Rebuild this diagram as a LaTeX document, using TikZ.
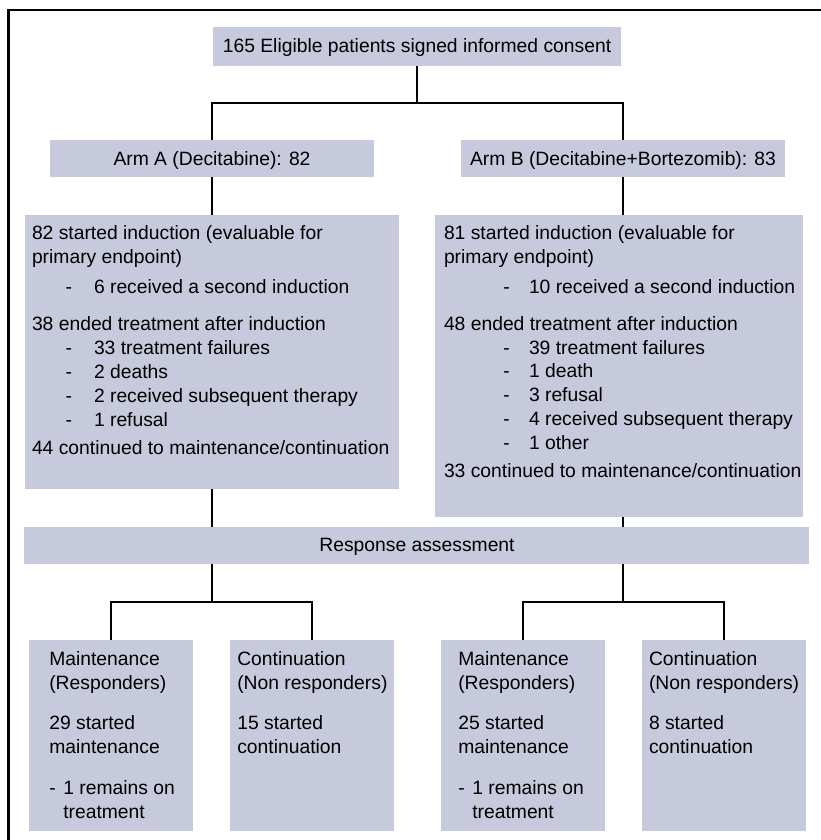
\documentclass[tikz,border=0pt]{standalone}
\usepackage{fontspec}
\setmainfont{Liberation Sans}
\definecolor{boxc}{RGB}{199,201,221}
\tikzset{
  box/.style={fill=boxc, draw=none, inner sep=0pt, outer sep=0pt},
  conn/.style={draw=black, line width=2.8pt},
  frameline/.style={draw=black, line width=2.8pt},
  txt/.style={inner sep=0pt, outer sep=0pt, font=\fontsize{19.3}{24}\selectfont, anchor=base west},
  ctxt/.style={txt, anchor=base},
}
\newcommand\txtline[4]{\node[txt] (#1) at (#2,#3) {#4};}
\begin{document}
\begin{tikzpicture}[x=1pt,y=-1pt]
\useasboundingbox (0,0) rectangle (820,840);
% frame (cropped: only top and left edges visible)
\draw[frameline] (8.7,845) -- (8.7,10) -- (825,10);

% boxes
\node[box, minimum width=408pt, minimum height=39pt] (top) at (417,46.5) {};
\node[box, minimum width=324pt, minimum height=37pt] (armA) at (212,158.5) {};
\node[box, minimum width=324pt, minimum height=37pt] (armB) at (623,158.5) {};
\node[box, minimum width=374pt, minimum height=274pt] (bigA) at (212,352) {};
\node[box, minimum width=368pt, minimum height=302pt] (bigB) at (619,366) {};
\node[box, minimum width=785pt, minimum height=37pt] (resp) at (416.5,545.5) {};
\node[box, minimum width=164pt, minimum height=191pt] (mA) at (111,735.5) {};
\node[box, minimum width=164pt, minimum height=191pt] (cA) at (312,735.5) {};
\node[box, minimum width=164pt, minimum height=191pt] (mB) at (523,735.5) {};
\node[box, minimum width=164pt, minimum height=191pt] (cB) at (724,735.5) {};

% connectors
\draw[conn] (top.south) -- (top.south |- 0,103) coordinate (jTop);
\draw[conn] (armA.north) |- (jTop) -| (armA.north -| armB.north);
\draw[conn] (armA.south) -- (bigA.north);
\draw[conn] (armB.south) -- (armB.south |- bigB.north);
\draw[conn] (bigA.south) -- (bigA.south |- resp.north);
\draw[conn] (armB.south |- bigB.south) -- (armB.south |- resp.north);
\draw[conn] (bigA.south |- resp.south) -- (bigA.south |- 0,602) coordinate (jA);
\draw[conn] (mA.north) |- (jA) -| (cA.north);
\draw[conn] (armB.south |- resp.south) -- (armB.south |- 0,602) coordinate (jB);
\draw[conn] (mB.north) |- (jB) -| (cB.north);

% centered texts
\node[ctxt] (tTop) at (417,52.3) {165 Eligible patients signed informed consent};
\node[ctxt] (tArmA) at (212,165.7) {Arm A (Decitabine): 82};
\node[ctxt] (tArmB) at (623,165.7) {Arm B (Decitabine+Bortezomib): 83};
\node[ctxt] (tResp) at (417,551.7) {Response assessment};

% Arm A details
\txtline{a1}{32}{239}{82 started induction (evaluable for}
\txtline{a2}{32}{263.3}{primary endpoint)}
\txtline{a3d}{65.7}{293}{-}
\txtline{a3}{94}{293}{6 received a second induction}
\txtline{a4}{32}{330}{38 ended treatment after induction}
\txtline{a5d}{65.7}{354}{-}
\txtline{a5}{94}{354}{33 treatment failures}
\txtline{a6d}{65.7}{378.3}{-}
\txtline{a6}{94}{378.3}{2 deaths}
\txtline{a7d}{65.7}{402.3}{-}
\txtline{a7}{94}{402.3}{2 received subsequent therapy}
\txtline{a8d}{65.7}{426}{-}
\txtline{a8}{94}{426}{1 refusal}
\txtline{a9}{32}{454.7}{44 continued to maintenance/continuation}

% Arm B details
\txtline{b1}{444}{239}{81 started induction (evaluable for}
\txtline{b2}{444}{263.3}{primary endpoint)}
\txtline{b3d}{503.3}{293}{-}
\txtline{b3}{529}{293}{10 received a second induction}
\txtline{b4}{444}{330}{48 ended treatment after induction}
\txtline{b5d}{503.3}{354}{-}
\txtline{b5}{529}{354}{39 treatment failures}
\txtline{b6d}{503.3}{377.7}{-}
\txtline{b6}{529}{377.7}{1 death}
\txtline{b7d}{503.3}{401.7}{-}
\txtline{b7}{529}{401.7}{3 refusal}
\txtline{b8d}{503.3}{425.7}{-}
\txtline{b8}{529}{425.7}{4 received subsequent therapy}
\txtline{b9d}{503.3}{449.3}{-}
\txtline{b9}{529}{449.3}{1 other}
\txtline{b10}{444}{477.7}{33 continued to maintenance/continuation}

% Maintenance A
\txtline{ma1}{49.3}{665}{Maintenance}
\txtline{ma2}{49.3}{689.3}{(Responders)}
\txtline{ma3}{49.3}{729.3}{29 started}
\txtline{ma4}{49.3}{753.3}{maintenance}
\txtline{ma5d}{49.3}{794}{-}
\txtline{ma5}{63.3}{794}{1 remains on}
\txtline{ma6}{63.3}{818.3}{treatment}
% Continuation A
\txtline{ca1}{237.3}{665}{Continuation}
\txtline{ca2}{237.3}{689.3}{(Non responders)}
\txtline{ca3}{237.3}{729.3}{15 started}
\txtline{ca4}{237.3}{753.3}{continuation}
% Maintenance B
\txtline{mb1}{458.3}{665}{Maintenance}
\txtline{mb2}{458.3}{689.3}{(Responders)}
\txtline{mb3}{458.3}{729.3}{25 started}
\txtline{mb4}{458.3}{753.3}{maintenance}
\txtline{mb5d}{458.3}{794}{-}
\txtline{mb5}{472.3}{794}{1 remains on}
\txtline{mb6}{472.3}{818.3}{treatment}
% Continuation B
\txtline{cb1}{649}{665}{Continuation}
\txtline{cb2}{649}{689.3}{(Non responders)}
\txtline{cb3}{649}{729.3}{8 started}
\txtline{cb4}{649}{753.3}{continuation}
\end{tikzpicture}
\end{document}
